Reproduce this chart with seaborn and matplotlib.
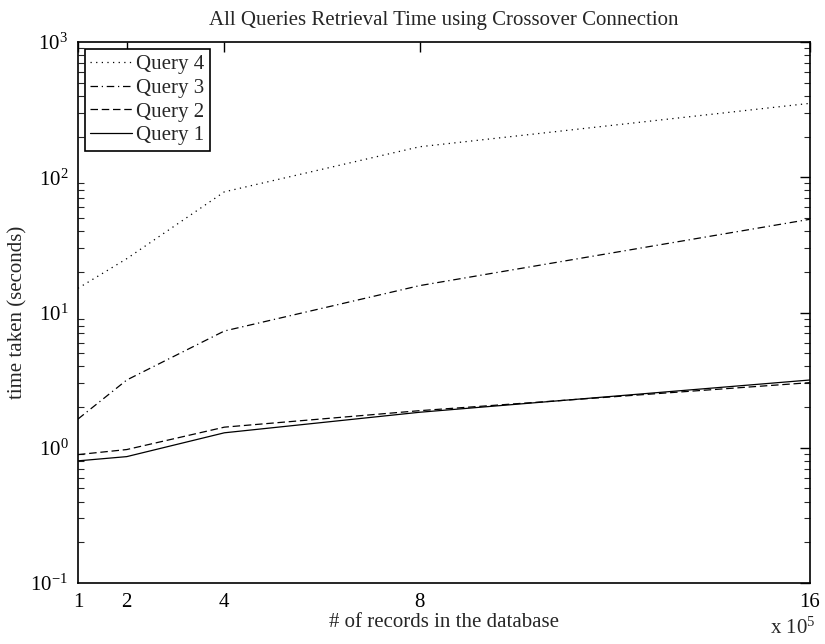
import matplotlib
matplotlib.use('Agg')
import matplotlib.pyplot as plt
import matplotlib.ticker as mticker
import seaborn as sns
import pandas as pd

# records in the database (x 10^5)
records = [1, 2, 4, 8, 16]

# retrieval time in seconds
query1 = [0.80, 0.86, 1.29, 1.83, 3.17]
query2 = [0.89, 0.97, 1.42, 1.88, 3.03]
query3 = [1.63, 3.17, 7.3, 15.8, 48.9]
query4 = [15.1, 25.0, 78.0, 168.0, 352.0]

series_names = ['Query 1', 'Query 2', 'Query 3', 'Query 4']
series_values = [query1, query2, query3, query4]

sns.set_style('white')
plt.rcParams['font.family'] = ['Liberation Serif', 'DejaVu Serif']
plt.rcParams['mathtext.fontset'] = 'custom'
plt.rcParams['mathtext.rm'] = 'Liberation Serif'
plt.rcParams['mathtext.it'] = 'Liberation Serif:italic'
plt.rcParams['font.size'] = 15

df = pd.DataFrame({
    'records': records * len(series_names),
    'time': sum(series_values, []),
    'query': [name for name in series_names for _ in records],
})

fig = plt.figure(figsize=(8.25, 6.44), dpi=100)
ax = fig.add_axes([0.0945, 0.0947, 0.8873, 0.8401])

line_styles = {
    'Query 1': '-',
    'Query 2': (0, (6, 3)),
    'Query 3': (0, (6, 3, 1, 3)),
    'Query 4': (0, (1, 3.5)),
}

for name in series_names:
    sub = df[df['query'] == name]
    sns.lineplot(data=sub, x='records', y='time', ax=ax, color='black',
                 linewidth=0.9, linestyle=line_styles[name], label=name,
                 estimator=None, sort=False)

ax.set_yscale('log')
ax.set_xlim(1, 16)
ax.set_ylim(0.1, 1000)
ax.set_xticks(records)
ax.set_xticklabels([str(r) for r in records])
ax.yaxis.set_major_locator(mticker.LogLocator(base=10, numticks=10))
ax.yaxis.set_minor_locator(mticker.LogLocator(base=10, subs=range(2, 10), numticks=20))

ax.tick_params(axis='both', which='major', direction='in', length=7, width=1,
               top=True, right=True, labelsize=15, pad=7, colors='black')
ax.tick_params(axis='y', which='minor', direction='in', length=4, width=0.8,
               left=True, right=True)
for spine in ax.spines.values():
    spine.set_visible(True)
    spine.set_color('black')
    spine.set_linewidth(1.2)

ax.set_title('All Queries Retrieval Time using Crossover Connection', fontsize=15, pad=12)
ax.set_xlabel('# of records in the database', fontsize=15, labelpad=1)
ax.set_ylabel('time taken (seconds)', fontsize=15, labelpad=2)

fig.text(0.988, 0.008, r'x $\mathregular{10^5}$', ha='right', va='bottom', fontsize=15)

handles, labels = ax.get_legend_handles_labels()
order = [3, 2, 1, 0]
leg = ax.legend([handles[i] for i in order], [labels[i] for i in order],
                loc='upper left', fontsize=15, frameon=True, fancybox=False,
                edgecolor='black', framealpha=1, handlelength=2.0,
                labelspacing=0.2, borderaxespad=0.35, borderpad=0.25,
                handletextpad=0.2)
leg.get_frame().set_linewidth(1.2)

fig.savefig('out.png', dpi=100)
